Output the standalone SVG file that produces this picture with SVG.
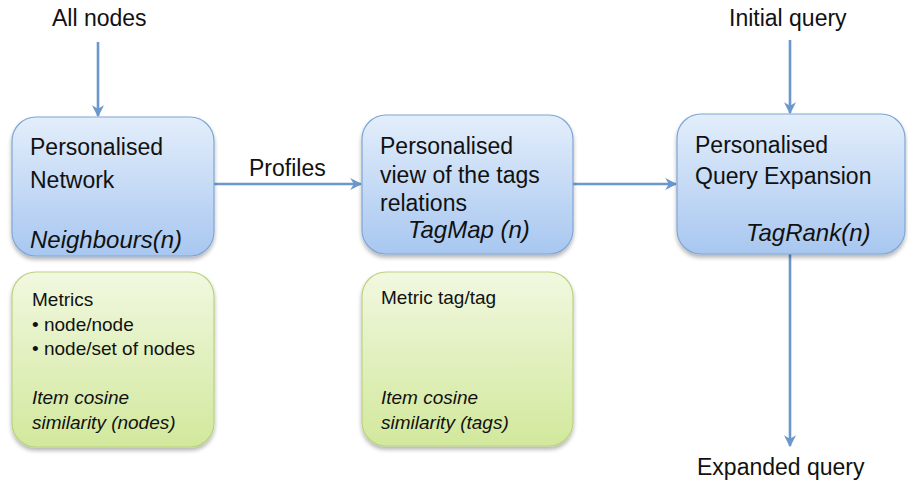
<svg xmlns="http://www.w3.org/2000/svg" width="908" height="485" viewBox="0 0 908 485">
<style>
.t{font-family:"Liberation Sans",Arial,sans-serif;font-size:23px;fill:#111}
.s{font-family:"Liberation Sans",Arial,sans-serif;font-size:19px;fill:#111}
.i{font-style:italic}
.b{font-size:24px}
.blue{fill:url(#gb);stroke:#7fa6d6;stroke-width:1.2;filter:url(#sh)}
.green{fill:url(#gg);stroke:#b9d37f;stroke-width:1.2;filter:url(#sh)}
.c{stroke:#6b97cd;stroke-width:2.6;fill:none;marker-end:url(#ah)}
</style>
<defs>
<linearGradient id="gb" x1="0" y1="0" x2="0" y2="1">
<stop offset="0" stop-color="#e3eefb"/><stop offset="1" stop-color="#a8c7f0"/>
</linearGradient>
<linearGradient id="gg" x1="0" y1="0" x2="0" y2="1">
<stop offset="0" stop-color="#f1f8e0"/><stop offset="1" stop-color="#d2e89c"/>
</linearGradient>
<filter id="sh" x="-10%" y="-10%" width="120%" height="125%">
<feGaussianBlur in="SourceAlpha" stdDeviation="2"/>
<feOffset dx="0" dy="3" result="b"/>
<feComponentTransfer><feFuncA type="linear" slope="0.3"/></feComponentTransfer>
<feMerge><feMergeNode/><feMergeNode in="SourceGraphic"/></feMerge>
</filter>
<marker id="ah" markerWidth="12" markerHeight="12" viewBox="0 0 10 10" refX="9" refY="5" orient="auto" markerUnits="userSpaceOnUse">
<path d="M0,0 L10,5 L0,10 L3,5 Z" fill="#6b97cd"/>
</marker>
</defs>
<g id="connectors">
<line class="c" x1="98" y1="42" x2="98" y2="116"/>
<line class="c" x1="790" y1="40" x2="790" y2="113"/>
<line class="c" x1="214" y1="184" x2="361" y2="184"/>
<line class="c" x1="573" y1="184" x2="676" y2="184"/>
<line class="c" x1="790" y1="254" x2="790" y2="446"/>
</g>
<g id="label-allnodes"><text class="t" x="52" y="26">All nodes</text></g>
<g id="label-initial"><text class="t" x="729" y="26">Initial query</text></g>
<g id="label-profiles"><text class="t" x="249" y="176">Profiles</text></g>
<g id="label-expanded"><text class="t" x="697" y="475">Expanded query</text></g>
<g id="node-network">
<rect class="blue" x="12" y="117" width="202" height="139" rx="24"/>
<text class="t" x="30" y="155">Personalised</text>
<text class="t" x="30" y="188">Network</text>
<text class="t i b" x="30" y="248">Neighbours(n)</text>
</g>
<g id="node-network-metrics">
<rect class="green" x="12" y="272" width="202" height="175" rx="24"/>
<text class="s" x="32" y="306">Metrics</text>
<text class="s" x="32" y="331">• node/node</text>
<text class="s" x="32" y="355">• node/set of nodes</text>
<text class="s i" x="32" y="404">Item cosine</text>
<text class="s i" x="32" y="429">similarity (nodes)</text>
</g>
<g id="node-tagmap">
<rect class="blue" x="362" y="115" width="211" height="139" rx="24"/>
<text class="t" x="380" y="154">Personalised</text>
<text class="t" x="380" y="183">view of the tags</text>
<text class="t" x="380" y="211">relations</text>
<text class="t i b" x="408" y="238">TagMap (n)</text>
</g>
<g id="node-tagmap-metrics">
<rect class="green" x="362" y="272" width="211" height="174" rx="24"/>
<text class="s" x="381" y="304">Metric tag/tag</text>
<text class="s i" x="381" y="404">Item cosine</text>
<text class="s i" x="381" y="429">similarity (tags)</text>
</g>
<g id="node-tagrank">
<rect class="blue" x="677" y="114" width="228" height="140" rx="24"/>
<text class="t" x="695" y="153">Personalised</text>
<text class="t" x="695" y="184">Query Expansion</text>
<text class="t i b" x="746" y="241">TagRank(n)</text>
</g>
</svg>
